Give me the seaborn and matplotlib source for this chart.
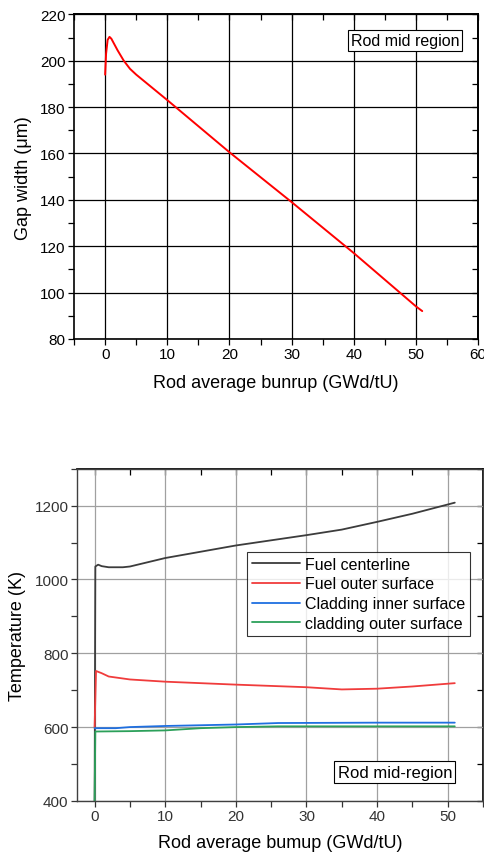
import pandas as pd
import matplotlib.pyplot as plt
from matplotlib.ticker import MultipleLocator
import seaborn as sns

# gap width, rod mid region
gap_burnup = [0, 0.15, 0.4, 0.7, 1.0, 1.5, 2, 3, 4, 5, 10, 20, 30, 40, 50, 51]
gap_width = [194, 203, 209, 210.3, 209.5, 207, 204.5, 200, 196.5, 194, 183, 160.5, 139, 117, 94, 92]

# temperatures, rod mid-region
fc_burnup = [0, 0.1, 0.5, 1, 2, 4, 5, 10, 20, 30, 35, 40, 45, 51]
fc_temp = [400, 1035, 1040, 1036, 1033, 1033, 1035, 1058, 1092, 1120, 1135, 1156, 1178, 1208]
fo_burnup = [0, 0.2, 1, 2, 5, 10, 20, 30, 35, 40, 45, 51]
fo_temp = [600, 752, 746, 737, 729, 723, 715, 708, 702, 704, 710, 719]
ci_burnup = [0, 3, 5, 10, 20, 26, 40, 51]
ci_temp = [597, 597, 600, 603, 607, 611, 612, 612]
co_burnup = [0, 0.1, 5, 10, 15, 20, 26, 40, 51]
co_temp = [400, 588, 589, 591, 597, 600, 602, 602, 602]

series_names = ["Fuel centerline", "Fuel outer surface",
                "Cladding inner surface", "cladding outer surface"]
series_colors = ["#3c3c3c", "#f03c3c", "#1f6fe0", "#2ca05a"]

sns.set_theme(style="white")
plt.rcParams['font.family'] = ['Liberation Sans', 'DejaVu Sans']
plt.rcParams['axes.edgecolor'] = 'black'
plt.rcParams['xtick.color'] = 'black'
plt.rcParams['ytick.color'] = 'black'
plt.rcParams['text.color'] = 'black'
plt.rcParams['axes.labelcolor'] = 'black'

fig = plt.figure(figsize=(4.84, 8.54), dpi=100)


def add_inner_ticks(ax, xmaj, xmin, ymaj, ymin):
    # top and right ticks point inward, no labels
    top = ax.secondary_xaxis('top')
    top.xaxis.set_major_locator(MultipleLocator(xmaj))
    top.xaxis.set_minor_locator(MultipleLocator(xmin))
    top.tick_params(which='both', direction='in', length=4, width=0.9,
                    labeltop=False)
    right = ax.secondary_yaxis('right')
    right.yaxis.set_major_locator(MultipleLocator(ymaj))
    right.yaxis.set_minor_locator(MultipleLocator(ymin))
    right.tick_params(which='both', direction='in', length=4, width=0.9,
                      labelright=False)


# ---- top panel ----
ax1 = fig.add_axes([0.153, 0.602, 0.835, 0.380])
gap_df = pd.DataFrame({"burnup": gap_burnup, "gap": gap_width})
sns.lineplot(data=gap_df, x="burnup", y="gap", color="red", linewidth=1.4,
             sort=False, ax=ax1)
ax1.set_xlim(-5, 60)
ax1.set_ylim(80, 220)
ax1.xaxis.set_major_locator(MultipleLocator(10))
ax1.xaxis.set_minor_locator(MultipleLocator(5))
ax1.yaxis.set_major_locator(MultipleLocator(20))
ax1.yaxis.set_minor_locator(MultipleLocator(10))
ax1.grid(True, which='major', color='black', linewidth=0.9)
ax1.tick_params(which='both', direction='out', length=4, width=0.9,
                labelsize=11, bottom=True, left=True, pad=2)
for s in ax1.spines.values():
    s.set_linewidth(1.2)
add_inner_ticks(ax1, 10, 5, 20, 10)
ax1.set_xlabel("Rod average bunrup (GWd/tU)", fontsize=13, labelpad=9)
ax1.set_ylabel("Gap width (\u03bcm)", fontsize=13, labelpad=6)
ax1.text(0.819, 0.92, "Rod mid region", transform=ax1.transAxes, fontsize=11.5,
         ha='center', va='center',
         bbox=dict(boxstyle='square,pad=0.2', fc='white', ec='black', lw=0.8))

# ---- bottom panel ----
ax2 = fig.add_axes([0.159, 0.061, 0.839, 0.389])
temp_df = pd.concat([
    pd.DataFrame({"burnup": fc_burnup, "temp": fc_temp, "series": series_names[0]}),
    pd.DataFrame({"burnup": fo_burnup, "temp": fo_temp, "series": series_names[1]}),
    pd.DataFrame({"burnup": ci_burnup, "temp": ci_temp, "series": series_names[2]}),
    pd.DataFrame({"burnup": co_burnup, "temp": co_temp, "series": series_names[3]}),
])
sns.lineplot(data=temp_df, x="burnup", y="temp", hue="series",
             hue_order=series_names, palette=series_colors, linewidth=1.3,
             sort=False, estimator=None, ax=ax2)
ax2.set_xlim(-2.5, 55)
ax2.set_ylim(400, 1300)
ax2.xaxis.set_major_locator(MultipleLocator(10))
ax2.xaxis.set_minor_locator(MultipleLocator(5))
ax2.yaxis.set_major_locator(MultipleLocator(200))
ax2.yaxis.set_minor_locator(MultipleLocator(100))
ax2.grid(True, which='major', color='#a0a0a0', linewidth=0.9)
ax2.tick_params(which='both', direction='out', length=4, width=0.9,
                labelsize=11, bottom=True, left=True, pad=2,
                colors='#333333')
for s in ax2.spines.values():
    s.set_linewidth(1.0)
    s.set_color('#404040')
add_inner_ticks(ax2, 10, 5, 200, 100)
ax2.set_xlabel("Rod average bumup (GWd/tU)", fontsize=13, labelpad=8)
ax2.set_ylabel("Temperature (K)", fontsize=13, labelpad=6)
leg = ax2.legend(loc='upper right', bbox_to_anchor=(0.968, 0.75), fontsize=11.5,
                 frameon=True, fancybox=False, borderpad=0.3, labelspacing=0.3,
                 handlelength=3.0, handletextpad=0.3, borderaxespad=0)
leg.get_frame().set_edgecolor('black')
leg.get_frame().set_linewidth(0.8)
ax2.text(0.783, 0.087, "Rod mid-region", transform=ax2.transAxes, fontsize=12,
         ha='center', va='center',
         bbox=dict(boxstyle='square,pad=0.2', fc='white', ec='black', lw=0.8))

plt.savefig("out.png", dpi=100)
